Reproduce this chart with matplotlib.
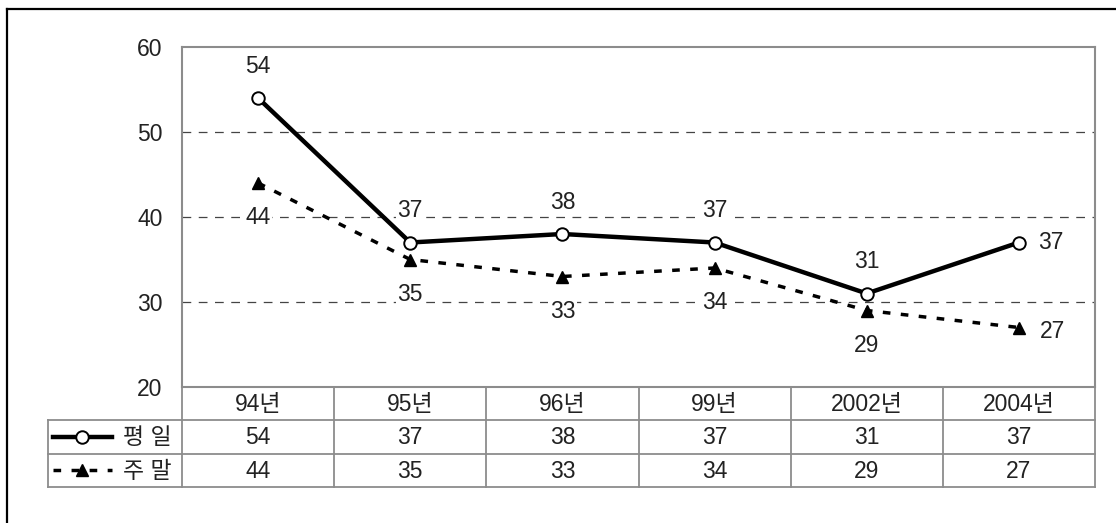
import numpy as np
import matplotlib
matplotlib.use("Agg")
import matplotlib.pyplot as plt
from matplotlib.lines import Line2D

plt.rcParams['font.family'] = ['Liberation Sans', 'Noto Sans CJK KR', 'DejaVu Sans']

years = ['94년', '95년', '96년', '99년', '2002년', '2004년']
weekday = [54, 37, 38, 37, 31, 37]
weekend = [44, 35, 33, 34, 29, 27]
series_names = ['평 일', '주 말']
yticks = [20, 30, 40, 50, 60]

W, H = 1116, 523
fig = plt.figure(figsize=(W / 100, H / 100), dpi=100)


def px_axes(x0, y0, x1, y1):
    # pixel box (top-left origin) -> figure axes
    return fig.add_axes([x0 / W, 1 - y1 / H, (x1 - x0) / W, (y1 - y0) / H])


# outer frame (only top/left visible in the picture)
fig.add_artist(Line2D([7 / W, 7 / W], [0, 1 - 9 / H], color='black', lw=1.6))
fig.add_artist(Line2D([7 / W, 1], [1 - 9 / H, 1 - 9 / H], color='black', lw=1.6))

grey = '#8c8c8c'
fs = 16.5
tcol = '#222222'

# main plot area
ax = px_axes(182, 47, 1095, 387)
x = np.arange(len(years))
ax.set_xlim(-0.5, len(years) - 0.5)
ax.set_ylim(20, 60)
for s in ax.spines.values():
    s.set_color(grey)
    s.set_linewidth(1.5)
ax.set_xticks([])
ax.set_yticks(yticks)
ax.tick_params(axis='y', length=0, pad=14, labelsize=fs, labelcolor=tcol)
for v in yticks[1:-1]:
    ax.axhline(v, color='#444444', lw=0.9, ls=(0, (7, 6)), zorder=1)

dots = (0, (2.2, 3.0))
ax.plot(x, weekend, color='black', lw=2.5, ls=dots,
        marker='^', ms=8, mfc='black', mec='black', zorder=3)
ax.plot(x, weekday, color='black', lw=3.2, marker='o', ms=9,
        mfc='white', mec='black', mew=1.4, zorder=4)

box = dict(facecolor='white', edgecolor='none', pad=1)
last = len(years) - 1
for i, v in enumerate(weekday):
    off = (14, 0) if i == last else (0, 23)
    ax.annotate(str(v), (i, v), xytext=off, textcoords='offset points',
                ha='left' if i == last else 'center', va='center',
                fontsize=fs, color=tcol, bbox=box, zorder=2)
for i, v in enumerate(weekend):
    off = (15, -3) if i == last else (0, -25)
    ax.annotate(str(v), (i, v), xytext=off, textcoords='offset points',
                ha='left' if i == last else 'center', va='center',
                fontsize=fs, color=tcol, bbox=box, zorder=2)

# data table under the plot
tab_left = 48
unit = (1095 - 182) / len(years)
tx = px_axes(tab_left, 387, 1095, 487)
left_lim = -0.5 - (182 - tab_left) / unit
tx.set_xlim(left_lim, len(years) - 0.5)
tx.set_ylim(3, 0)
tx.axis('off')

lc = grey
lw = 1.3
for r in (1, 2, 3):
    tx.plot([left_lim, len(years) - 0.5], [r, r], color=lc, lw=lw, clip_on=False)
for b in np.arange(-0.5, len(years), 1.0):
    tx.plot([b, b], [0, 3], color=lc, lw=lw, clip_on=False)
tx.plot([left_lim, left_lim], [1, 3], color=lc, lw=lw, clip_on=False)

for i, lab in enumerate(years):
    tx.text(i, 0.52, lab, ha='center', va='center', fontsize=fs, color=tcol)
    tx.text(i, 1.52, str(weekday[i]), ha='center', va='center', fontsize=fs, color=tcol)
    tx.text(i, 2.52, str(weekend[i]), ha='center', va='center', fontsize=fs, color=tcol)

# legend keys inside the first column
kx0 = left_lim + 0.03
kx1 = left_lim + 0.42
tx.plot([kx0, kx1], [1.5, 1.5], color='black', lw=3.2, clip_on=False)
tx.plot([(kx0 + kx1) / 2], [1.5], marker='o', ms=9, mfc='white', mec='black',
        mew=1.4, clip_on=False)
tx.plot([kx0, kx1], [2.5, 2.5], color='black', lw=2.5, ls=dots, clip_on=False)
tx.plot([(kx0 + kx1) / 2], [2.5], marker='^', ms=8, color='black', clip_on=False)
tx.text(-0.57, 1.52, series_names[0], ha='right', va='center', fontsize=fs, color=tcol)
tx.text(-0.57, 2.52, series_names[1], ha='right', va='center', fontsize=fs, color=tcol)

fig.savefig('out.png', dpi=100)
